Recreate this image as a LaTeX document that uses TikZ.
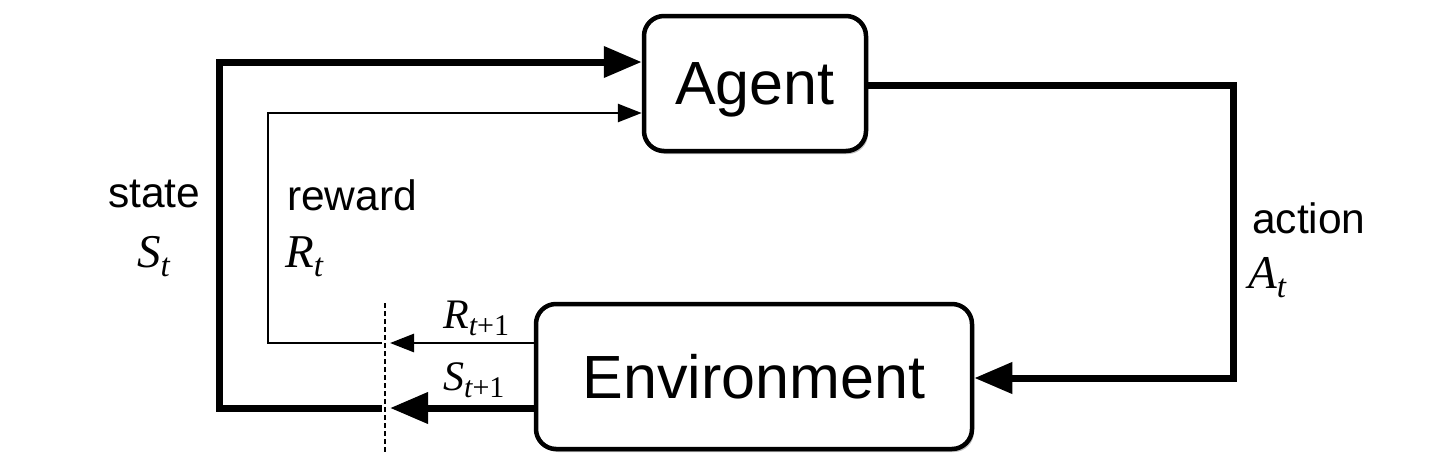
\documentclass[tikz,border=0pt]{standalone}
\usepackage{fontspec}
\setmainfont{Liberation Sans}
\newfontfamily\serifvar{Liberation Serif}
\usetikzlibrary{arrows.meta,shadows}
% #1 size, #2 subscript size, #3 drop, #4 letter, #5 subscript
\newcommand\symsub[5]{{\serifvar\fontsize{#1}{#1}\selectfont\itshape #4\raisebox{-#3}{\fontsize{#2}{#2}\selectfont #5}}}
\begin{document}
\begin{tikzpicture}[x=1pt,y=-1pt,
  box/.style={draw, line width=4.5pt, rounded corners=20pt, fill=white,
    inner sep=0pt, text depth=0pt, font=\fontsize{61}{61}\selectfont,
    drop shadow={shadow xshift=2pt, shadow yshift=-3pt, fill=black, opacity=0.25}},
  thickline/.style={line width=7pt},
  thinline/.style={line width=2.8pt},
  bigtip/.style={-{Triangle[length=38pt,width=30pt]}},
  smalltip/.style={-{Triangle[length=24pt,width=18pt]}},
  lbl/.style={anchor=base west, inner sep=0pt, font=\fontsize{42.5}{42.5}\selectfont},
  sym/.style={anchor=base west, inner sep=0pt},
  cutline/.style={line width=1.5pt, dash pattern=on 5pt off 3pt}]
\useasboundingbox (0,0) rectangle (1442,472);
\fill[white] (0,0) rectangle (1442,472);

\node[box, minimum width=222pt, minimum height=135pt] (agent) at (755,83.5) {Agent};
\node[box, minimum width=436pt, minimum height=145pt] (env) at (754,376.5) {Environment};

% coordinates
\coordinate (cutTop) at (385,303);
\coordinate (cutBot) at (385,452);
\coordinate (sTip) at (390,408);
\coordinate (sEnd) at (382,408);
\coordinate (rTip) at (390,343);
\coordinate (rEnd) at (382,343);
\coordinate (stl) at (219,62);
\coordinate (rtl) at (268,113);
\coordinate (acorner) at (1233,378);

% dashed cut
\draw[cutline] (cutTop) -- (cutBot);

% state
\draw[thickline, bigtip] (env.west |- sTip) -- (sTip);
\draw[thickline, bigtip] (sEnd) -| (stl) -- (agent.west |- stl);

% reward
\draw[thinline, smalltip] (env.west |- rTip) -- (rTip);
\draw[thinline, smalltip] (rEnd) -| (rtl) -- (agent.west |- rtl);

% action
\draw[thickline, bigtip] (agent.east |- 0,85) -| (acorner) -- (env.east |- acorner);

% labels
\node[lbl] (lstate) at (108,207) {state};
\node[sym] (sst) at (137,267) {\symsub{47}{33}{9pt}{S}{t}};
\node[lbl] (lreward) at (287,210) {reward};
\node[sym] (srt) at (285,267) {\symsub{47}{33}{9pt}{R}{t}};
\node[lbl] (laction) at (1252,233) {action};
\node[sym] (sat) at (1248,288) {\symsub{47}{33}{9pt}{A}{t}};
\node[sym] (srt1) at (443,328) {\symsub{42}{30}{7pt}{R}{t\upshape+1}};
\node[sym] (sst1) at (443,390) {\symsub{42}{30}{7pt}{S}{t\upshape+1}};
\end{tikzpicture}
\end{document}
